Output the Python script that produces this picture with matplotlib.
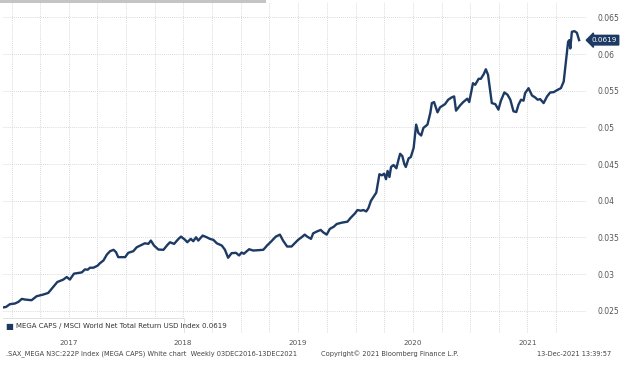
import pandas as pd
import matplotlib
matplotlib.use("Agg")
from matplotlib import pyplot as plt
from matplotlib.patches import Rectangle
from matplotlib.transforms import blended_transform_factory

# ratio series
dates = ["2016-12-03", "2016-12-14", "2016-12-26", "2017-01-11", "2017-01-22", "2017-02-02",
         "2017-02-12", "2017-03-05", "2017-03-21", "2017-04-11", "2017-04-27", "2017-05-13",
         "2017-05-26", "2017-06-03", "2017-06-14", "2017-06-25", "2017-07-05", "2017-07-18",
         "2017-07-29", "2017-08-12", "2017-08-22", "2017-08-31", "2017-09-07", "2017-09-18",
         "2017-10-01", "2017-10-09", "2017-10-20", "2017-10-31", "2017-11-10", "2017-11-21",
         "2017-11-29", "2017-12-06", "2017-12-28", "2018-01-07", "2018-01-23", "2018-02-03",
         "2018-02-19", "2018-03-01", "2018-03-12", "2018-03-20", "2018-03-30", "2018-04-13",
         "2018-04-29", "2018-05-12", "2018-05-20", "2018-06-02", "2018-06-16", "2018-06-24",
         "2018-07-07", "2018-07-14", "2018-07-25", "2018-08-02", "2018-08-11", "2018-08-18",
         "2018-09-01", "2018-09-14", "2018-09-24", "2018-10-05", "2018-10-16", "2018-11-01",
         "2018-11-11", "2018-11-21", "2018-12-02", "2018-12-16", "2018-12-26", "2019-01-03",
         "2019-01-10", "2019-01-27", "2019-02-09", "2019-03-13", "2019-03-25", "2019-04-08",
         "2019-04-22", "2019-05-05", "2019-05-15", "2019-05-28", "2019-06-11", "2019-06-21",
         "2019-07-02", "2019-07-13", "2019-07-23", "2019-07-31", "2019-08-12", "2019-08-19",
         "2019-09-01", "2019-09-12", "2019-09-20", "2019-10-01", "2019-10-11", "2019-10-24",
         "2019-11-02", "2019-11-18", "2019-12-06", "2019-12-16", "2019-12-30", "2020-01-07",
         "2020-01-18", "2020-01-26", "2020-02-04", "2020-02-11", "2020-02-19", "2020-02-27",
         "2020-03-07", "2020-03-17", "2020-03-25", "2020-04-01", "2020-04-07", "2020-04-12",
         "2020-04-18", "2020-04-23", "2020-05-01", "2020-05-10", "2020-05-17", "2020-05-22",
         "2020-05-29", "2020-06-04", "2020-06-09", "2020-06-18", "2020-06-25", "2020-07-04",
         "2020-07-12", "2020-07-19", "2020-07-28", "2020-08-04", "2020-08-17", "2020-08-26",
         "2020-08-31", "2020-09-07", "2020-09-18", "2020-09-26", "2020-10-12", "2020-10-22",
         "2020-11-02", "2020-11-10", "2020-11-16", "2020-11-29", "2020-12-09", "2020-12-22",
         "2020-12-28", "2021-01-09", "2021-01-16", "2021-01-27", "2021-02-03", "2021-02-12",
         "2021-02-19", "2021-02-26", "2021-03-10", "2021-03-21", "2021-03-31", "2021-04-08",
         "2021-04-19", "2021-04-29", "2021-05-08", "2021-05-18", "2021-05-27", "2021-06-03",
         "2021-06-11", "2021-06-19", "2021-06-24", "2021-07-05", "2021-07-16", "2021-07-26",
         "2021-08-03", "2021-08-11", "2021-08-22", "2021-09-02", "2021-09-12", "2021-09-23",
         "2021-10-06", "2021-10-16", "2021-10-25", "2021-11-01", "2021-11-08", "2021-11-12",
         "2021-11-15", "2021-11-20", "2021-11-28", "2021-12-06", "2021-12-13"]
values = [0.02545, 0.02554, 0.02591, 0.02600, 0.02622, 0.02663,
          0.02654, 0.02645, 0.02699, 0.02722, 0.02744, 0.02825,
          0.02893, 0.02907, 0.02926, 0.02961, 0.02926, 0.03007,
          0.03015, 0.03024, 0.03065, 0.03061, 0.03088, 0.03088,
          0.03115, 0.03150, 0.03187, 0.03268, 0.03313, 0.03332,
          0.03300, 0.03232, 0.03232, 0.03291, 0.03313, 0.03367,
          0.03400, 0.03421, 0.03413, 0.03458, 0.03390, 0.03336,
          0.03332, 0.03400, 0.03435, 0.03413, 0.03481, 0.03512,
          0.03468, 0.03435, 0.03481, 0.03449, 0.03503, 0.03458,
          0.03526, 0.03503, 0.03481, 0.03468, 0.03421, 0.03390,
          0.03332, 0.03224, 0.03286, 0.03291, 0.03255, 0.03295,
          0.03278, 0.03340, 0.03322, 0.03332, 0.03390, 0.03449,
          0.03512, 0.03539, 0.03458, 0.03377, 0.03377, 0.03421,
          0.03468, 0.03503, 0.03539, 0.03512, 0.03481, 0.03557,
          0.03584, 0.03603, 0.03570, 0.03539, 0.03617, 0.03648,
          0.03684, 0.03702, 0.03715, 0.03766, 0.03828, 0.03874,
          0.03865, 0.03874, 0.03855, 0.03901, 0.04000, 0.04054,
          0.04112, 0.04362, 0.04348, 0.04370, 0.04294, 0.04407,
          0.04325, 0.04461, 0.04488, 0.04443, 0.04565, 0.04641,
          0.04610, 0.04505, 0.04461, 0.04579, 0.04596, 0.04722,
          0.05039, 0.04925, 0.04890, 0.04993, 0.05039, 0.05196,
          0.05332, 0.05346, 0.05206, 0.05274, 0.05318, 0.05378,
          0.05409, 0.05423, 0.05229, 0.05301, 0.05346, 0.05392,
          0.05346, 0.05603, 0.05581, 0.05663, 0.05663, 0.05725,
          0.05793, 0.05717, 0.05332, 0.05318, 0.05243, 0.05365,
          0.05477, 0.05446, 0.05378, 0.05220, 0.05210, 0.05310,
          0.05378, 0.05365, 0.05467, 0.05535, 0.05436, 0.05409,
          0.05378, 0.05386, 0.05332, 0.05423, 0.05477, 0.05481,
          0.05514, 0.05535, 0.05626, 0.05897, 0.06168, 0.06191,
          0.06077, 0.06304, 0.06313, 0.06290, 0.06190]

yticks = [0.025, 0.03, 0.035, 0.04, 0.045, 0.05, 0.055, 0.06, 0.065]
ytick_labels = ["0.025", "0.03", "0.035", "0.04", "0.045", "0.05", "0.055", "0.06", "0.065"]
years = [2017, 2018, 2019, 2020, 2021]
last_value = "0.0619"
legend_text = "MEGA CAPS / MSCI World Net Total Return USD Index 0.0619"
footer_left = ".SAX_MEGA N3C:222P Index (MEGA CAPS) White chart  Weekly 03DEC2016-13DEC2021"
footer_mid = "Copyright\u00a9 2021 Bloomberg Finance L.P."
footer_right = "13-Dec-2021 13:39:57"

navy = "#1c3a64"
grey_txt = "#555555"
plt.rcParams["font.family"] = ["DejaVu Sans"]

W, H = 621, 367
fig = plt.figure(figsize=(W / 100, H / 100), dpi=100)
ax = fig.add_axes([3 / W, (H - 333) / H, (586 - 3) / W, (333 - 2) / H])

x = pd.to_datetime(dates)
ax.plot(x, values, color=navy, lw=1.7, solid_joinstyle="round", zorder=3)

ax.set_xlim(pd.Timestamp("2016-12-04"), pd.Timestamp("2022-01-04"))
ax.set_ylim(0.02198, 0.0671)

# quarterly grid lines
quarters = pd.date_range("2017-01-01", "2021-12-31", freq="QS")
ax.set_xticks(quarters)
ax.set_xticklabels([])
ax.tick_params(axis="x", length=0)

# year labels centred on mid-year, below the plot
trans = blended_transform_factory(ax.transData, fig.transFigure)
for y in years:
    ax.text(pd.Timestamp(f"{y}-07-01"), 1 - 343 / H, str(y), transform=trans,
            ha="center", va="center", fontsize=5.2, color=grey_txt)

ax.yaxis.tick_right()
ax.set_yticks(yticks)
ax.set_yticklabels(ytick_labels)
ax.tick_params(axis="y", length=0, pad=8, labelsize=5.5, labelcolor=grey_txt)

ax.grid(True, which="major", color="#cccccc", lw=0.6, ls=(0, (1, 1.5)))
for s in ax.spines.values():
    s.set_visible(False)

# current value tag
ax.annotate(last_value, xy=(1.0, values[-1]), xycoords=("axes fraction", "data"),
            xytext=(4, 0), textcoords="offset points", ha="left", va="center",
            fontsize=5.2, color="white",
            bbox=dict(boxstyle="larrow,pad=0.25", fc=navy, ec=navy))

# legend box over the grid
ax.add_patch(Rectangle((0, 1 - 337 / H), 184 / W, 19 / H, transform=fig.transFigure,
                       fc="white", ec="#dddddd", lw=0.6, zorder=4))
fig.text(5 / W, 1 - 326.5 / H, "\u25a0", color=navy, fontsize=6, ha="left", va="center", zorder=5)
fig.text(15.5 / W, 1 - 326 / H, legend_text, color="#333333", fontsize=5, ha="left", va="center", zorder=5)

fig.text(6 / W, 1 - 354 / H, footer_left, fontsize=4.8, color="#444444", ha="left", va="center")
fig.text(390 / W, 1 - 354 / H, footer_mid, fontsize=4.8, color="#444444", ha="center", va="center")
fig.text(611 / W, 1 - 354 / H, footer_right, fontsize=4.8, color="#444444", ha="right", va="center")

# grey strip along the top edge
fig.patches.append(Rectangle((0, 1 - 3 / H), 266 / W, 3 / H, transform=fig.transFigure,
                             fc="#c4c4c4", ec="none"))

fig.savefig("out.png", dpi=100)
